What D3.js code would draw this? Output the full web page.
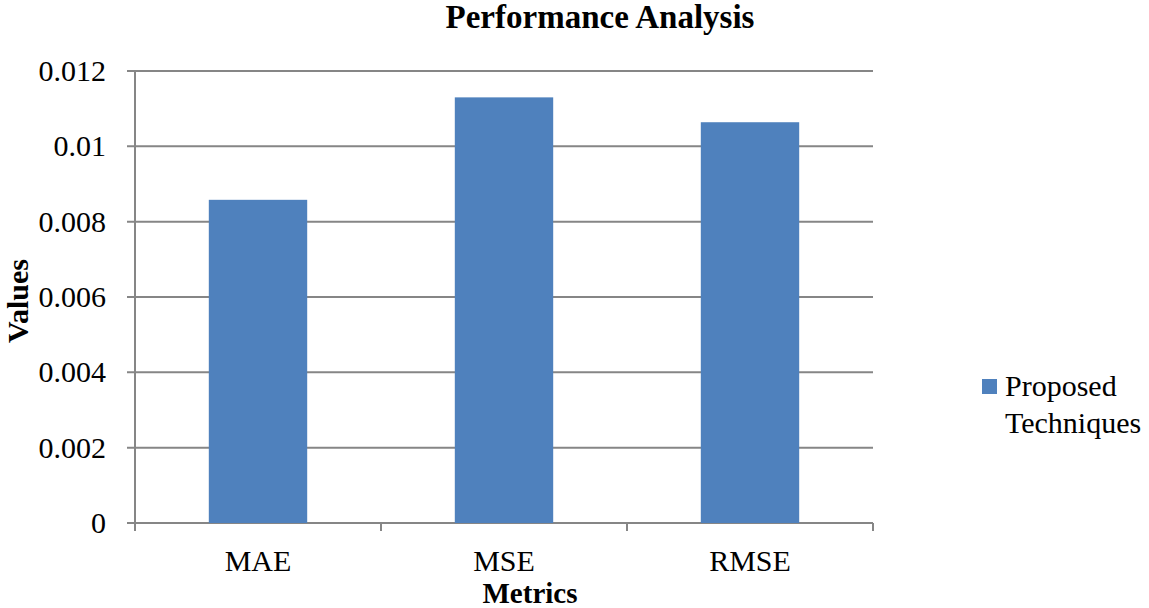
<!DOCTYPE html>
<html>
<head>
<meta charset="utf-8">
<script src="https://cdn.jsdelivr.net/npm/d3@7"></script>
<style>
    body { margin: 0; background: #fff; }
</style>
</head>
<body>
<svg id="chart" width="1149" height="608"></svg>
<script>
var categories = ["MAE", "MSE", "RMSE"];
var seriesName = ["Proposed", "Techniques"];
var values = [0.00858, 0.0113, 0.01064];
var yTicks = [0, 0.002, 0.004, 0.006, 0.008, 0.01, 0.012];
var yTickLabels = ["0", "0.002", "0.004", "0.006", "0.008", "0.01", "0.012"];

var style = {
    left: 135,
    right: 873,
    top: 71,
    bottom: 523,
    bar: "#4f81bd",
    grid: "#868686",
    tick: 8,
    font: "'Liberation Serif', Tinos, 'Times New Roman', Times, 'DejaVu Serif', serif"
};

var svg = d3.select("#chart")
    .attr("font-family", style.font);

var x = d3.scaleBand()
    .domain(categories)
    .range([style.left, style.right])
    .paddingInner(0.6)
    .paddingOuter(0.3);

var y = d3.scaleLinear()
    .domain([0, 0.012])
    .range([style.bottom, style.top]);

// gridlines
svg.append("g")
    .selectAll("line")
    .data(yTicks)
    .enter()
    .append("line")
    .attr("x1", style.left - style.tick)
    .attr("x2", style.right)
    .attr("y1", function(d) { return y(d); })
    .attr("y2", function(d) { return y(d); })
    .attr("stroke", style.grid)
    .attr("stroke-width", 2);

// bars
svg.append("g")
    .selectAll("rect")
    .data(values)
    .enter()
    .append("rect")
    .attr("x", function(d, i) { return x(categories[i]); })
    .attr("y", function(d) { return y(d); })
    .attr("width", x.bandwidth())
    .attr("height", function(d) { return y(0) - y(d); })
    .attr("fill", style.bar);

// y axis line
svg.append("line")
    .attr("x1", style.left).attr("x2", style.left)
    .attr("y1", style.top).attr("y2", style.bottom + style.tick)
    .attr("stroke", style.grid)
    .attr("stroke-width", 2);

// category boundary ticks
var step = x.step();
svg.append("g")
    .selectAll("line")
    .data(categories)
    .enter()
    .append("line")
    .attr("x1", function(d) { return x(d) - x.step() * x.paddingOuter() + step; })
    .attr("x2", function(d) { return x(d) - x.step() * x.paddingOuter() + step; })
    .attr("y1", style.bottom)
    .attr("y2", style.bottom + style.tick)
    .attr("stroke", style.grid)
    .attr("stroke-width", 2);

// y tick labels
svg.append("g")
    .selectAll("text")
    .data(yTicks)
    .enter()
    .append("text")
    .attr("x", 106)
    .attr("y", function(d) { return y(d) + 10; })
    .attr("text-anchor", "end")
    .attr("font-size", 30)
    .text(function(d, i) { return yTickLabels[i]; });

// category labels
svg.append("g")
    .selectAll("text")
    .data(categories)
    .enter()
    .append("text")
    .attr("x", function(d) { return x(d) + x.bandwidth() / 2; })
    .attr("y", 571)
    .attr("text-anchor", "middle")
    .attr("font-size", 30)
    .text(function(d) { return d; });

// titles
svg.append("text")
    .attr("x", 600)
    .attr("y", 28)
    .attr("text-anchor", "middle")
    .attr("font-size", 33)
    .attr("font-weight", "bold")
    .text("Performance Analysis");

svg.append("text")
    .attr("x", 530)
    .attr("y", 603)
    .attr("text-anchor", "middle")
    .attr("font-size", 29)
    .attr("font-weight", "bold")
    .text("Metrics");

svg.append("text")
    .attr("transform", "translate(28,301) rotate(-90)")
    .attr("text-anchor", "middle")
    .attr("font-size", 30)
    .attr("font-weight", "bold")
    .text("Values");

// legend
var legend = svg.append("g");
legend.append("rect")
    .attr("x", 982).attr("y", 379)
    .attr("width", 15).attr("height", 15)
    .attr("fill", style.bar);
legend.selectAll("text")
    .data(seriesName)
    .enter()
    .append("text")
    .attr("x", 1005)
    .attr("y", function(d, i) { return 396 + i * 37; })
    .attr("font-size", 30)
    .text(function(d) { return d; });
</script>
</body>
</html>
